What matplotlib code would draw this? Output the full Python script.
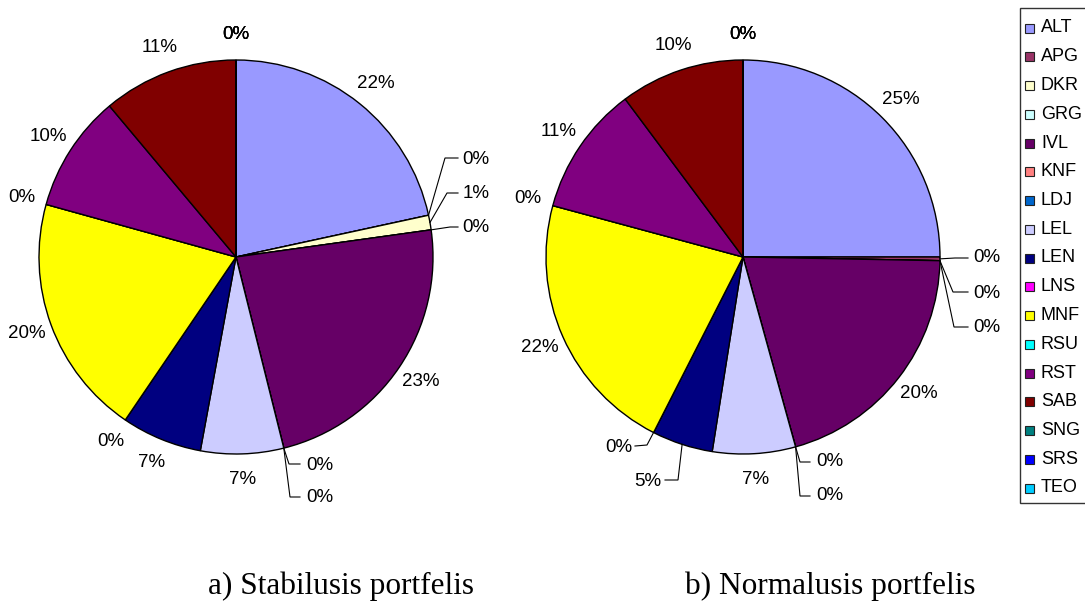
import matplotlib.pyplot as plt
from matplotlib.patches import Rectangle
import numpy as np

# Portfolio shares per stock (percent), same order as the legend
categories = ['ALT', 'APG', 'DKR', 'GRG', 'IVL', 'KNF', 'LDJ', 'LEL', 'LEN',
              'LNS', 'MNF', 'RSU', 'RST', 'SAB', 'SNG', 'SRS', 'TEO']
colors = ['#9999FF', '#993366', '#FFFFCC', '#CCFFFF', '#660066', '#FF8080',
          '#0066CC', '#CCCCFF', '#000080', '#FF00FF', '#FFFF00', '#00FFFF',
          '#800080', '#800000', '#008080', '#0000FF', '#00CCFF']
stab_values = [21.6, 0, 1.2, 0, 23.3, 0, 0, 6.8, 6.6, 0, 19.8, 0, 9.6, 11.1, 0, 0, 0]
norm_values = [25.0, 0.3, 0, 0, 20.4, 0, 0, 6.8, 5.0, 0, 21.7, 0, 10.6, 10.2, 0, 0, 0]
titles = ['a) Stabilusis portfelis', 'b) Normalusis portfelis']

W, H = 1085, 602
R = 197
LABEL_FONT = 'Liberation Sans'

# callout layout for crowded labels: knee point, line end, text centre (pixels from top-left)
stab_callouts = {
    'APG': ((445, 158), (458, 158), (476, 160)),
    'DKR': ((447, 193), (458, 193), (476, 193)),
    'GRG': ((450, 227), (458, 227), (476, 228)),
    'KNF': ((289, 464), (300, 464), (320, 465)),
    'LDJ': ((290, 497), (300, 497), (320, 498)),
}
norm_callouts = {
    'APG': ((955, 258), (968, 258), (987, 258)),
    'DKR': ((953, 292), (968, 292), (987, 293)),
    'GRG': ((954, 327), (968, 327), (987, 327)),
    'KNF': ((800, 462), (810, 462), (830, 462)),
    'LDJ': ((800, 496), (810, 496), (830, 496)),
    'LEN': ((678, 480), (665, 480), (648, 482)),
    'LNS': ((647, 445), (635, 446), (619, 447)),
}

fig = plt.figure(figsize=(W / 100, H / 100), dpi=100)
ax = fig.add_axes([0, 0, 1, 1])


def draw_pie(values, cx, cy, callouts):
    ax.pie(values, colors=colors, startangle=90, counterclock=False,
           radius=R, center=(cx, H - cy),
           wedgeprops=dict(edgecolor='black', linewidth=1))
    total = sum(values)
    start = 0.0
    for name, v in zip(categories, values):
        span = v / total * 360
        mid = np.radians(start + span / 2)
        start += span
        label = f'{round(v)}%'
        if name in callouts:
            (kx, ky), (lx, ly), (tx, ty) = callouts[name]
            ex, ey = cx + R * np.sin(mid), cy - R * np.cos(mid)
            ax.plot([ex, kx, lx], [H - ey, H - ky, H - ly], color='black',
                    lw=0.8, solid_joinstyle='miter')
        else:
            tx = cx + 1.13 * R * np.sin(mid)
            ty = cy - 1.13 * R * np.cos(mid)
        ax.text(tx, H - ty, label, ha='center', va='center', fontsize=13.5,
                family=LABEL_FONT)


draw_pie(stab_values, 236, 257, stab_callouts)
draw_pie(norm_values, 743, 257, norm_callouts)

ax.text(208, H - 594, titles[0], ha='left', va='baseline', fontsize=22.5,
        family='Liberation Serif')
ax.text(685, H - 594, titles[1], ha='left', va='baseline', fontsize=22.5,
        family='Liberation Serif')

# legend box on the right edge
ax.add_patch(Rectangle((1020, H - 503), 80, 495, facecolor='white',
                       edgecolor='#333333', lw=1, clip_on=False))
for i, (name, c) in enumerate(zip(categories, colors)):
    y = 28 + 28.75 * i
    ax.add_patch(Rectangle((1025, H - y - 4.5), 9, 9, facecolor=c,
                           edgecolor='#222222', lw=0.8))
    ax.text(1041, H - y, name, ha='left', va='center', fontsize=13,
            family=LABEL_FONT)

ax.set_xlim(0, W)
ax.set_ylim(0, H)
ax.set_aspect('auto')
ax.axis('off')

fig.savefig('out.png', dpi=100)
